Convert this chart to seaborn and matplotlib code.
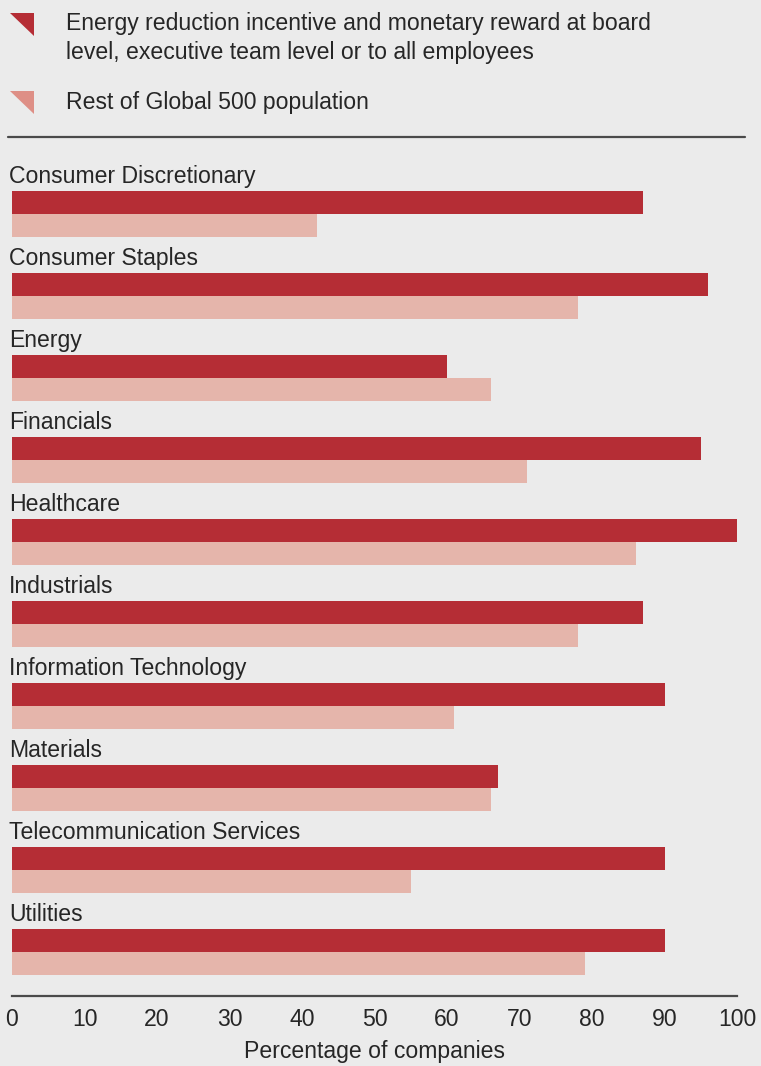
import matplotlib
matplotlib.use("Agg")
import matplotlib.pyplot as plt
from matplotlib.patches import Polygon
from matplotlib.lines import Line2D
import seaborn as sns
import pandas as pd

# Sector names and percentages of companies in each group
sectors = [
    "Consumer Discretionary",
    "Consumer Staples",
    "Energy",
    "Financials",
    "Healthcare",
    "Industrials",
    "Information Technology",
    "Materials",
    "Telecommunication Services",
    "Utilities",
]
incentive_pct = [87, 96, 60, 95, 100, 87, 90, 67, 90, 90]
rest_pct = [42, 78, 66, 71, 86, 78, 61, 66, 55, 79]

series_names = [
    "Energy reduction incentive and monetary reward at board\nlevel, executive team level or to all employees",
    "Rest of Global 500 population",
]
x_ticks = [0, 10, 20, 30, 40, 50, 60, 70, 80, 90, 100]
x_label = "Percentage of companies"

BG = "#ebebeb"
DARK = "#b52d35"
LIGHT = "#e5b5ab"
LEGEND_LIGHT = "#de8f86"
TEXT = "#262626"
FONT = ["Liberation Sans", "DejaVu Sans"]
FS = 16.6

df = pd.DataFrame({
    "sector": sectors * 2,
    "pct": incentive_pct + rest_pct,
    "group": [series_names[0]] * len(sectors) + [series_names[1]] * len(sectors),
})

sns.set_theme(style="white")
plt.rcParams["font.family"] = FONT
plt.rcParams["text.color"] = TEXT

W, H = 761, 1066
fig = plt.figure(figsize=(W / 100, H / 100), dpi=100, facecolor=BG)

ax_left, ax_right = 12, 737
ax_top, ax_bottom = 150, 996
ax = fig.add_axes([ax_left / W, 1 - ax_bottom / H, (ax_right - ax_left) / W, (ax_bottom - ax_top) / H])
ax.set_facecolor(BG)

sns.barplot(
    data=df, x="pct", y="sector", hue="group", hue_order=series_names,
    order=sectors, palette=[DARK, LIGHT], orient="h", width=0.56,
    dodge=True, saturation=1, legend=False, ax=ax, linewidth=0,
)

ax.set_xlim(0, 100)
ax.set_ylim(9.54, -0.78)
ax.set_yticks([])
ax.set_ylabel("")
ax.set_xticks(x_ticks)
ax.set_xticklabels([str(t) for t in x_ticks], fontsize=FS, color=TEXT)
ax.tick_params(axis="x", length=0, pad=9)
ax.set_xlabel(x_label, fontsize=FS, color=TEXT, labelpad=6)

for side in ("top", "right", "left"):
    ax.spines[side].set_visible(False)
ax.spines["bottom"].set_color("#4a4a4a")
ax.spines["bottom"].set_linewidth(1.6)

# Sector names sit above each pair of bars
for i, name in enumerate(sectors):
    ax.text(-0.4, i - 0.46, name, ha="left", va="center", fontsize=FS, color=TEXT)

# Legend: corner triangles with their descriptions
def px(x, y):
    return (x / W, 1 - y / H)

for (y0, color) in [(13, DARK), (91, LEGEND_LIGHT)]:
    tri = Polygon([px(10, y0), px(34, y0), px(34, y0 + 23)], closed=True,
                  transform=fig.transFigure, facecolor=color, edgecolor="none")
    fig.add_artist(tri)

fig.text(66 / W, 1 - 38 / H, series_names[0], ha="left", va="center",
         fontsize=FS, color=TEXT, linespacing=1.3)
fig.text(66 / W, 1 - 103 / H, series_names[1], ha="left", va="center",
         fontsize=FS, color=TEXT)

fig.add_artist(Line2D([8 / W, 745 / W], [1 - 137 / H, 1 - 137 / H],
                      transform=fig.transFigure, color="#4a4a4a", linewidth=1.6))

fig.savefig("out.png", dpi=100, facecolor=BG)
